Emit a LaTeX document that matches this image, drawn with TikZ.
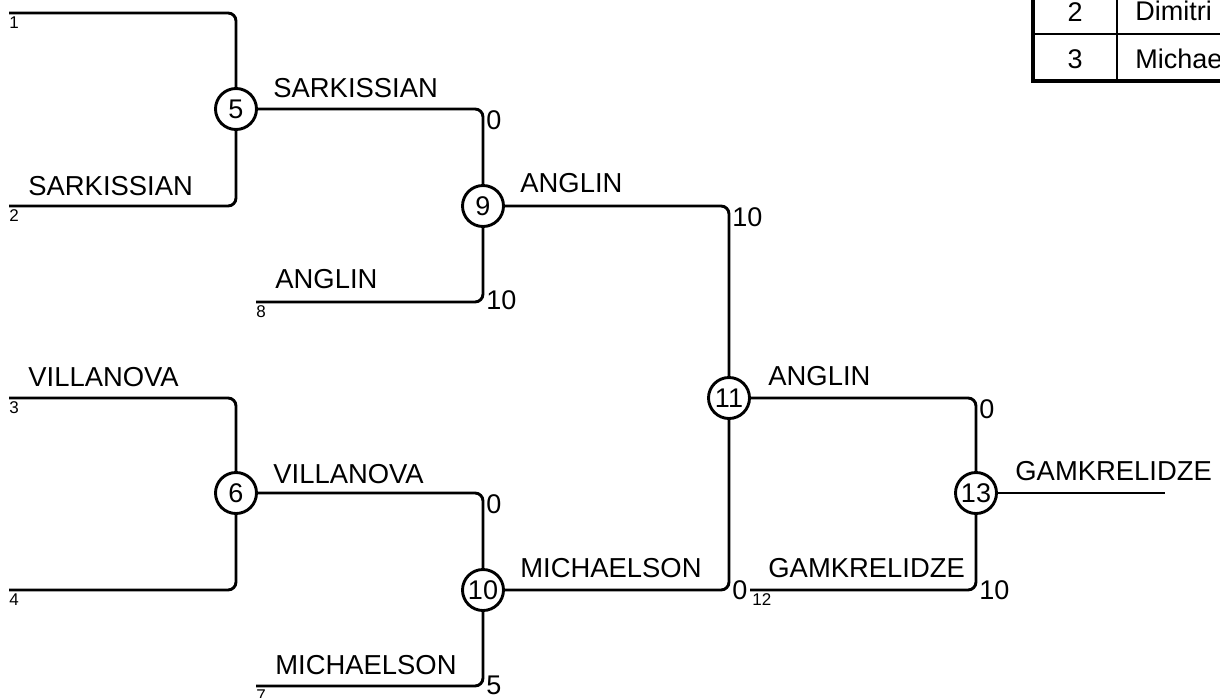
\documentclass[tikz,border=0pt]{standalone}
\usepackage{fontspec}
\setmainfont{Liberation Sans}
\begin{document}
\begin{tikzpicture}[x=0.5pt,y=-0.5pt,
  conn/.style={line width=1.45pt, rounded corners=4pt},
  match/.style={circle, draw, line width=1.45pt, minimum size=20.5pt, inner sep=0pt, font=\fontsize{13.5}{13.5}\selectfont},
  pname/.style={anchor=base west, inner sep=0pt, font=\fontsize{13.7}{14}\selectfont},
  seed/.style={anchor=north west, inner sep=0pt, font=\fontsize{8.5}{8.5}\selectfont},
  scoretop/.style={anchor=north west, inner sep=0pt, font=\fontsize{13.5}{13.5}\selectfont},
  scorebot/.style={anchor=west, inner sep=0pt, font=\fontsize{13.5}{13.5}\selectfont},
  cell/.style={inner sep=0pt, font=\fontsize{13.5}{14}\selectfont}
]
\useasboundingbox (0,0) rectangle (1220,697);
\clip (0,0) rectangle (1220,697);

% entry start points
\coordinate (e1) at (9,13);
\coordinate (e2) at (9,206);
\coordinate (e8) at (256,302);
\coordinate (e3) at (9,398);
\coordinate (e4) at (9,590);
\coordinate (e7) at (256,686);
\coordinate (e12) at (750,590);
\coordinate (w) at (1165,493);

% match circles
\node[match] (m5) at (236,109) {5};
\node[match] (m9) at (483,206) {9};
\node[match] (m6) at (236,493) {6};
\node[match] (m10) at (483,590) {10};
\node[match] (m11) at (729,398) {11};
\node[match] (m13) at (976,493) {13};

% connectors
\draw[conn] (e1) -| (m5);
\draw[conn] (e2) -| (m5);
\draw[conn] (m5) -| (m9);
\draw[conn] (e8) -| (m9);
\draw[conn] (e3) -| (m6);
\draw[conn] (e4) -| (m6);
\draw[conn] (m6) -| (m10);
\draw[conn] (e7) -| (m10);
\draw[conn] (m9) -| (m11);
\draw[conn] (m10) -| (m11);
\draw[conn] (m11) -| (m13);
\draw[conn] (e12) -| (m13);
\draw[conn] (m13) -- (w);

% seed labels
\node[seed] (s1) at (9,16) {1};
\node[seed] (s2) at (9,209) {2};
\node[seed] (s8) at (256,305) {8};
\node[seed] (s3) at (9,401) {3};
\node[seed] (s4) at (9,593) {4};
\node[seed] (s7) at (256,689) {7};
\node[seed] (s12) at (752,593) {12};

% names
\node[pname] (n2) at (28,195) {SARKISSIAN};
\node[pname] (n5) at (273,97) {SARKISSIAN};
\node[pname] (n8) at (275,288) {ANGLIN};
\node[pname] (n9) at (520,192) {ANGLIN};
\node[pname] (n3) at (28,386) {VILLANOVA};
\node[pname] (n6) at (273,483) {VILLANOVA};
\node[pname] (n7) at (275,674) {MICHAELSON};
\node[pname] (n10) at (520,577) {MICHAELSON};
\node[pname] (n11) at (768,385) {ANGLIN};
\node[pname] (n12) at (768,577) {GAMKRELIDZE};
\node[pname] (n13) at (1015,480) {GAMKRELIDZE};

% scores
\node[scoretop] (c5) at (486,110) {0};
\node[scorebot] (c8) at (486,300) {10};
\node[scoretop] (c9) at (732,207) {10};
\node[scoretop] (c6) at (486,494) {0};
\node[scorebot] (c7) at (486,685) {5};
\node[scorebot] (c10) at (732,590) {0};
\node[scoretop] (c11) at (979,399) {0};
\node[scorebot] (c12) at (979,590) {10};

% table (cropped)
\draw[line width=1pt] (1033,34) -- (1300,34);
\draw[line width=1pt] (1117,-30) -- (1117,81);
\draw[line width=1.9pt] (1033,-30) -- (1033,81) -- (1300,81);
\node[cell] (t2n) at (1075,12) {2};
\node[cell, anchor=base west] (t2t) at (1135,20) {Dimitri};
\node[cell] (t3n) at (1075,59) {3};
\node[cell, anchor=base west] (t3t) at (1135,68) {Michae};
\end{tikzpicture}
\end{document}
